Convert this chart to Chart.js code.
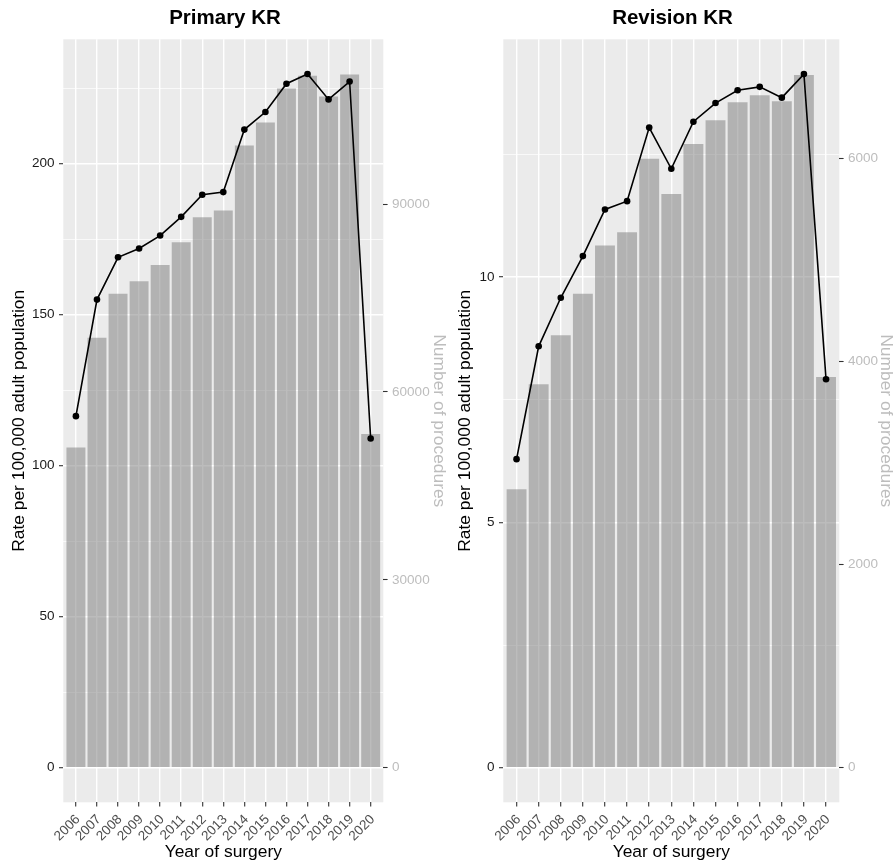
<!DOCTYPE html>
<html>
<head>
<meta charset="utf-8">
<script src="https://cdn.jsdelivr.net/npm/chart.js@4.4.1/dist/chart.umd.min.js"></script>
<style>
    body { margin: 0; background: #fff; width: 895px; height: 864px; overflow: hidden; position: relative; }
    canvas { position: absolute; top: 0; }
    #primaryChart { left: 0; }
    #revisionChart { left: 450px; }
</style>
</head>
<body>
<canvas id="primaryChart" width="450" height="864"></canvas>
<canvas id="revisionChart" width="445" height="864"></canvas>
<script>
// ========== DATA ==========
const years = [2006, 2007, 2008, 2009, 2010, 2011, 2012, 2013, 2014, 2015, 2016, 2017, 2018, 2019, 2020];

// Primary KR
const primaryRate = [116.4, 155.0, 169.0, 171.9, 176.2, 182.4, 189.7, 190.6, 211.3, 217.1, 226.5, 229.7, 221.3, 227.2, 109.0];
const primaryCount = [51120, 68650, 75670, 77700, 80290, 83910, 87900, 88970, 99380, 103030, 108470, 110490, 107190, 110700, 53300];
const primaryRateTicks = [0, 50, 100, 150, 200];
const primaryRateMinor = [25, 75, 125, 175, 225];
const primaryCountTicks = [0, 30000, 60000, 90000];

// Revision KR
const revisionRate = [6.29, 8.59, 9.58, 10.43, 11.38, 11.55, 13.05, 12.21, 13.17, 13.55, 13.81, 13.88, 13.66, 14.14, 7.92];
const revisionCount = [2741, 3776, 4257, 4667, 5141, 5272, 5996, 5650, 6141, 6376, 6553, 6622, 6563, 6821, 3848];
const revisionRateTicks = [0, 5, 10];
const revisionRateMinor = [2.5, 7.5, 12.5];
const revisionCountTicks = [0, 2000, 4000, 6000];

const FONT = "'Liberation Sans', Arial, Helvetica, sans-serif";

// grey panel behind the grid, like ggplot
const panelBackground = {
    id: "panelBackground",
    beforeDraw(chart) {
        const { ctx, chartArea } = chart;
        ctx.save();
        ctx.fillStyle = "#ebebeb";
        ctx.fillRect(chartArea.left, chartArea.top, chartArea.right - chartArea.left, chartArea.bottom - chartArea.top);
        ctx.restore();
    }
};

// ========== BUILD ONE PANEL ==========
function buildPanel(canvasId, cfg) {
    const allRateTicks = cfg.major.concat(cfg.minor).sort((a, b) => a - b);
    const isMajor = v => cfg.major.includes(v);

    return new Chart(document.getElementById(canvasId), {
        type: "bar",
        data: {
            datasets: [
                {
                    type: "line",
                    label: "Rate",
                    data: years.map((y, i) => ({ x: y, y: cfg.rate[i] })),
                    yAxisID: "y",
                    borderColor: "#000",
                    borderWidth: 1.6,
                    pointRadius: 3.3,
                    pointBackgroundColor: "#000",
                    pointBorderWidth: 0,
                    tension: 0,
                    order: 0
                },
                {
                    type: "bar",
                    label: "Procedures",
                    data: years.map((y, i) => ({ x: y, y: cfg.count[i] })),
                    yAxisID: "y2",
                    backgroundColor: "rgba(127, 127, 127, 0.52)",
                    borderWidth: 0,
                    barPercentage: 0.9,
                    categoryPercentage: 1,
                    order: 1
                }
            ]
        },
        options: {
            responsive: false,
            animation: false,
            devicePixelRatio: 1,
            layout: { padding: 0 },
            plugins: {
                legend: { display: false },
                tooltip: { enabled: false },
                title: {
                    display: true,
                    text: cfg.title,
                    color: "#000",
                    font: { family: FONT, size: 20.5, weight: "bold" },
                    padding: { top: 6.5, bottom: 8.2 }
                }
            },
            scales: {
                x: {
                    type: "linear",
                    min: years[0] - 0.6,
                    max: years[years.length - 1] + 0.6,
                    offset: false,
                    afterBuildTicks: scale => { scale.ticks = years.map(v => ({ value: v })); },
                    afterFit: scale => { scale.height = 61.7; },
                    border: { display: false },
                    grid: {
                        offset: false,
                        color: "#fff",
                        lineWidth: 1.4,
                        tickColor: "#333",
                        tickWidth: 1.1,
                        tickLength: 4.3
                    },
                    ticks: {
                        autoSkip: false,
                        minRotation: 45,
                        maxRotation: 45,
                        padding: 5,
                        labelOffset: 2,
                        color: "#4d4d4d",
                        font: { family: FONT, size: 13.5 },
                        callback: value => String(value)
                    },
                    title: {
                        display: true,
                        text: "Year of surgery",
                        color: "#000",
                        font: { family: FONT, size: 17.4 },
                        padding: { top: 0, bottom: 1.6 }
                    }
                },
                y: {
                    position: "left",
                    min: cfg.min,
                    max: cfg.max,
                    afterBuildTicks: scale => { scale.ticks = allRateTicks.map(v => ({ value: v })); },
                    afterFit: scale => { scale.width = cfg.leftWidth; },
                    border: { display: false },
                    grid: {
                        color: "#fff",
                        lineWidth: ctx => (ctx.tick && isMajor(ctx.tick.value) ? 1.4 : 0.7),
                        tickColor: ctx => (ctx.tick && isMajor(ctx.tick.value) ? "#333" : "rgba(0,0,0,0)"),
                        tickWidth: 1.1,
                        tickLength: 4.3
                    },
                    ticks: {
                        padding: 4.5,
                        color: "#1a1a1a",
                        font: { family: FONT, size: 13.5 },
                        callback: value => (isMajor(value) ? String(value) : "")
                    },
                    title: {
                        display: true,
                        text: "Rate per 100,000 adult population",
                        color: "#000",
                        font: { family: FONT, size: 17.4 },
                        padding: { top: cfg.leftTitlePad, bottom: 0 }
                    }
                },
                y2: {
                    position: "right",
                    min: cfg.min * cfg.factor,
                    max: cfg.max * cfg.factor,
                    afterBuildTicks: scale => { scale.ticks = cfg.countTicks.map(v => ({ value: v })); },
                    afterFit: scale => { scale.width = cfg.rightWidth; },
                    border: { display: false },
                    grid: {
                        drawOnChartArea: false,
                        tickColor: "#333",
                        tickWidth: 1.1,
                        tickLength: 4.3
                    },
                    ticks: {
                        padding: 4.5,
                        color: "#bdbdbd",
                        font: { family: FONT, size: 13.5 },
                        callback: value => String(value)
                    },
                    title: {
                        display: true,
                        text: "Number of procedures",
                        color: "#bdbdbd",
                        font: { family: FONT, size: 17.4 },
                        padding: { top: cfg.rightTitlePad, bottom: 0 }
                    }
                }
            }
        },
        plugins: [panelBackground]
    });
}

// ========== INITIALIZE ==========
buildPanel("primaryChart", {
    title: "Primary KR",
    rate: primaryRate,
    count: primaryCount,
    major: primaryRateTicks,
    minor: primaryRateMinor,
    countTicks: primaryCountTicks,
    min: -11.49,
    max: 241.2,
    factor: 482.3,
    leftWidth: 63.3,
    rightWidth: 66.7,
    leftTitlePad: 8.5,
    rightTitlePad: 0.3
});

buildPanel("revisionChart", {
    title: "Revision KR",
    rate: revisionRate,
    count: revisionCount,
    major: revisionRateTicks,
    minor: revisionRateMinor,
    countTicks: revisionCountTicks,
    min: -0.707,
    max: 14.85,
    factor: 483,
    leftWidth: 53.3,
    rightWidth: 55.7,
    leftTitlePad: 4.5,
    rightTitlePad: -1.4
});
</script>
</body>
</html>
